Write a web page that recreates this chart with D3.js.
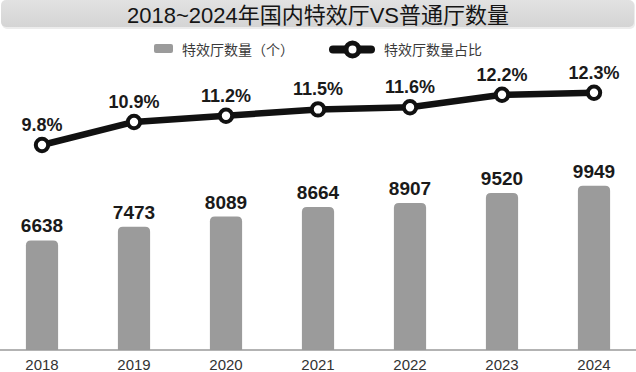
<!DOCTYPE html>
<html><head><meta charset="utf-8">
<script src="https://cdn.jsdelivr.net/npm/d3@7"></script>
<style>
html,body{margin:0;padding:0;background:#fff;}
svg{display:block;font-family:"Liberation Sans","Noto Sans CJK SC",sans-serif;}
</style></head>
<body>
<svg id="chart" width="636" height="372"></svg>
<script>
const years = ["2018","2019","2020","2021","2022","2023","2024"];
const counts = [6638, 7473, 8089, 8664, 8907, 9520, 9949];
const shares = [9.8, 10.9, 11.2, 11.5, 11.6, 12.2, 12.3];
const titleText = "2018~2024年国内特效厅VS普通厅数量";
const legendLabels = ["特效厅数量（个）", "特效厅数量占比"];

const svg = d3.select("#chart");
const W = 636, baseY = 350;

// title bar
const defs = svg.append("defs");
const grad = defs.append("linearGradient").attr("id","tg").attr("x1",0).attr("y1",0).attr("x2",0).attr("y2",1);
grad.append("stop").attr("offset","0%").attr("stop-color","#e2e2e2");
grad.append("stop").attr("offset","100%").attr("stop-color","#d4d4d4");
svg.append("rect").attr("x",2).attr("y",1).attr("width",633).attr("height",28).attr("rx",5).attr("fill","#ececec");
svg.append("rect").attr("x",1).attr("y",0).attr("width",633).attr("height",27).attr("rx",5).attr("fill","url(#tg)");
svg.append("text").attr("x",318).attr("y",23).attr("text-anchor","middle")
  .attr("font-size",22).attr("fill","#151515").text(titleText);

// scales
const x = d3.scaleBand().domain(years).range([-4, 640]).paddingInner(0.65).paddingOuter(0.325);
const yBar = d3.scaleLinear().domain([0, 10000]).range([baseY, 185]);
const yLine = d3.scaleLinear().domain([0, 16.73]).range([baseY, 0]);
const cx = d => x(d) + x.bandwidth()/2;

// legend
const lg = svg.append("g");
lg.append("rect").attr("x",154).attr("y",44).attr("width",19).attr("height",9).attr("rx",2).attr("fill","#9b9b9b");
lg.append("text").attr("x",182).attr("y",55).attr("font-size",14).attr("fill","#3a3a3a").text(legendLabels[0]);
lg.append("line").attr("x1",333).attr("x2",371).attr("y1",49.5).attr("y2",49.5)
  .attr("stroke","#111").attr("stroke-width",8).attr("stroke-linecap","round");
lg.append("circle").attr("cx",352.5).attr("cy",49.5).attr("r",6.5).attr("fill","#fff").attr("stroke","#111").attr("stroke-width",5);
lg.append("text").attr("x",384).attr("y",55).attr("font-size",14).attr("fill","#3a3a3a").text(legendLabels[1]);

// bars with rounded tops
const r = 5;
const barPath = (d, i) => {
  const x0 = x(d), w = x.bandwidth(), y0 = yBar(counts[i]), yb = baseY;
  return `M${x0},${yb}V${y0+r}Q${x0},${y0} ${x0+r},${y0}H${x0+w-r}Q${x0+w},${y0} ${x0+w},${y0+r}V${yb}Z`;
};
svg.append("g").selectAll("path").data(years).join("path")
  .attr("d", barPath).attr("fill","#9b9b9b");

svg.append("g").selectAll("text").data(years).join("text")
  .attr("x", d => cx(d)).attr("y", (d,i) => yBar(counts[i]) - 8)
  .attr("text-anchor","middle").attr("font-size",19).attr("font-weight","bold").attr("fill","#1a1a1a")
  .text((d,i) => counts[i]);

// axis
const axis = d3.axisBottom(x).tickSize(0).tickPadding(0);
const ag = svg.append("g").attr("transform",`translate(0,${baseY})`).call(axis);
ag.select(".domain").remove();
svg.append("line").attr("x1",0).attr("x2",W).attr("y1",baseY).attr("y2",baseY).attr("stroke","#9a9a9a").attr("stroke-width",1.5);
ag.selectAll("text").attr("y",20).attr("dy",0).attr("font-size",15)
  .attr("font-family","Liberation Sans, sans-serif").attr("fill","#333");

// line
const line = d3.line().x((d,i) => cx(years[i])).y(d => yLine(d));
svg.append("path").datum(shares).attr("d", line).attr("fill","none")
  .attr("stroke","#111").attr("stroke-width",6.5).attr("stroke-linejoin","round");
svg.append("g").selectAll("circle").data(shares).join("circle")
  .attr("cx",(d,i) => cx(years[i])).attr("cy", d => yLine(d)).attr("r",6.2)
  .attr("fill","#fff").attr("stroke","#111").attr("stroke-width",4);
svg.append("g").selectAll("text").data(shares).join("text")
  .attr("x",(d,i) => cx(years[i])).attr("y", d => yLine(d) - 14)
  .attr("text-anchor","middle").attr("font-size",18).attr("font-weight","bold").attr("fill","#1a1a1a")
  .text(d => d.toFixed(1) + "%");
</script>
</body></html>
